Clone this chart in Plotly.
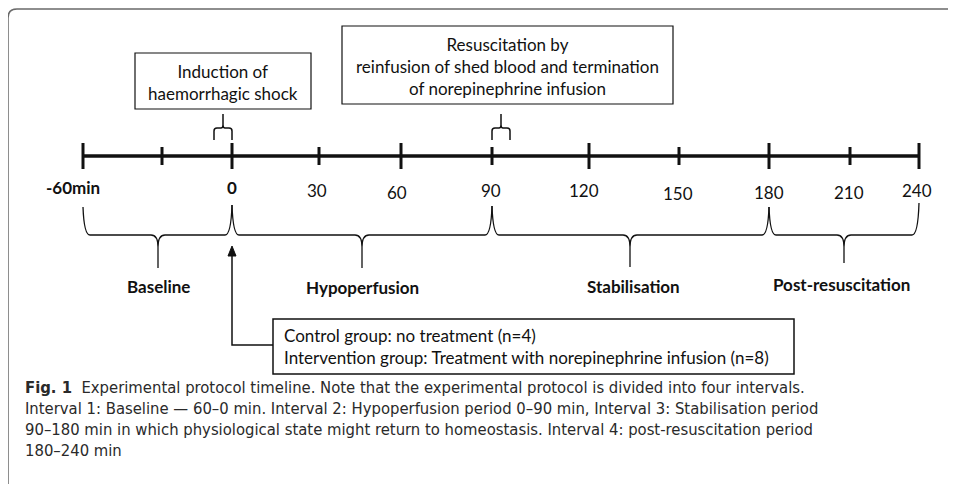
import plotly.graph_objects as go

# ---------------- data ----------------
tick_times = [-60, -30, 0, 30, 60, 90, 120, 150, 180, 210, 240]
tick_labels = ["-60min", "", "0", "30", "60", "90", "120", "150", "180", "210", "240"]
tick_bold = [True, False, True, False, False, False, False, False, False, False, False]
tick_major = [True, False, True, False, True, False, True, False, True, False, True]

interval_names = ["Baseline", "Hypoperfusion", "Stabilisation", "Post-resuscitation"]
interval_start = [-60, 0, 90, 180]
interval_end = [0, 90, 180, 240]

event_times = [0, 90]
event_texts = ["Induction of<br>haemorrhagic shock",
               "Resuscitation by<br>reinfusion of shed blood and termination<br>of norepinephrine infusion"]

group_lines = ["Control group: no treatment (n=4)",
               "Intervention group: Treatment with norepinephrine infusion (n=8)"]

caption_lines = [
    "<b>Fig. 1</b>  Experimental protocol timeline. Note that the experimental protocol is divided into four intervals.",
    "Interval 1: Baseline \u2014 60\u20130 min. Interval 2: Hypoperfusion period 0\u201390 min, Interval 3: Stabilisation period",
    "90\u2013180 min in which physiological state might return to homeostasis. Interval 4: post-resuscitation period",
    "180\u2013240 min",
]

# ---------------- layout (pixel positions of the hand-drawn diagram) ----------------
TICK_PX = [83, 162, 232, 319, 401, 492, 589, 679, 769, 850, 919]
LABEL_PX = [73, None, 232, 317, 397, 491, 584, 678, 769, 849, 917]
LABEL_PY = [187, None, 187, 190, 192, 190, 190, 193, 192, 192, 190]
px = dict(zip(tick_times, TICK_PX))

AXIS_Y = 156
FONT = "Lato, 'Open Sans', sans-serif"
CAP_FONT = "'Liberation Sans Narrow', 'DejaVu Sans Condensed', 'Arial Narrow', sans-serif"
INK = "#111111"
OFF = 8          # page body margin offset
W, H = 948, 476  # figure size chosen so the page does not overflow the window

fig = go.Figure()
shapes = []
annotations = []

# outer rounded frame (open to the right and bottom, as in the cropped original)
shapes.append(dict(type="path", xref="x", yref="y",
                   path="M 8,484 L 8,18 Q 8,9 17,9 L 956,9",
                   line=dict(color="#6a6a6a", width=1.5)))

# main timeline
shapes.append(dict(type="line", xref="x", yref="y", x0=px[-60], x1=px[240], y0=AXIS_Y, y1=AXIS_Y,
                   line=dict(color=INK, width=3.5)))
for t, major in zip(tick_times, tick_major):
    h = 13 if major else 9
    shapes.append(dict(type="line", xref="x", yref="y", x0=px[t], x1=px[t],
                       y0=AXIS_Y - h, y1=AXIS_Y + h, line=dict(color=INK, width=3)))

# tick labels
for t, lab, b, lx, ly in zip(tick_times, tick_labels, tick_bold, LABEL_PX, LABEL_PY):
    if not lab:
        continue
    annotations.append(dict(x=lx, y=ly, xref="x", yref="y", text=f"<b>{lab}</b>" if b else lab,
                            showarrow=False, font=dict(family=FONT, size=17, color=INK),
                            xanchor="center", yanchor="middle"))

# small braces above the timeline at event times
for t in event_times:
    x0 = px[t] - 18 if t == 0 else px[t]
    x1 = x0 + 18
    xm = (x0 + x1) / 2
    path = (f"M {x0},140 L {x0},131 Q {x0},128 {x0+3},128 L {xm-2},128 Q {xm},128 {xm},125 "
            f"L {xm},114 M {xm},125 Q {xm},128 {xm+2},128 L {x1-3},128 Q {x1},128 {x1},131 L {x1},140")
    shapes.append(dict(type="path", xref="x", yref="y", path=path, line=dict(color=INK, width=1.5)))

# event boxes
BOXES = [(135, 311, 53, 109), (342, 673, 26, 104)]
for (bx0, bx1, by0, by1), txt in zip(BOXES, event_texts):
    shapes.append(dict(type="rect", xref="x", yref="y", x0=bx0, x1=bx1, y0=by0, y1=by1,
                       line=dict(color=INK, width=1.2), fillcolor="white"))
    annotations.append(dict(x=(bx0 + bx1) / 2, y=(by0 + by1) / 2 + 1, xref="x", yref="y", text=txt,
                            showarrow=False, align="center",
                            font=dict(family=FONT, size=17, color=INK),
                            xanchor="center", yanchor="middle"))

# interval braces below the timeline
YH = 235
TOPS = {-60: 207, 0: 205, 90: 206, 180: 207, 240: 203}
MID_PX = [158, 362, 630, 844]
TIP_PX = [268, 268, 267, 263]
NAME_PX = [158, 362, 633, 841]
NAME_PY = [286, 287, 286, 284]
for s, e, xm, tip in zip(interval_start, interval_end, MID_PX, TIP_PX):
    x0, x1 = px[s], px[e]
    path = (f"M {x0},{TOPS[s]} Q {x0+1},{YH} {x0+7},{YH} L {xm-7},{YH} Q {xm},{YH} {xm},{YH+12} L {xm},{tip} "
            f"M {xm},{YH+12} Q {xm},{YH} {xm+7},{YH} L {x1-7},{YH} Q {x1-1},{YH} {x1},{TOPS[e]}")
    shapes.append(dict(type="path", xref="x", yref="y", path=path, line=dict(color=INK, width=1.3)))
for name, nx, ny in zip(interval_names, NAME_PX, NAME_PY):
    annotations.append(dict(x=nx, y=ny, xref="x", yref="y", text=f"<b>{name}</b>",
                            showarrow=False, font=dict(family=FONT, size=17, color=INK),
                            xanchor="center", yanchor="middle"))

# group box with arrow pointing at time 0
GB = (273, 794, 319, 374)
shapes.append(dict(type="rect", xref="x", yref="y", x0=GB[0], x1=GB[1], y0=GB[2], y1=GB[3],
                   line=dict(color=INK, width=1.5), fillcolor="white"))
shapes.append(dict(type="path", xref="x", yref="y",
                   path=f"M {GB[0]},345 L {px[0]},345 L {px[0]},254",
                   line=dict(color=INK, width=1.5)))
shapes.append(dict(type="path", xref="x", yref="y",
                   path=f"M {px[0]-4},256 L {px[0]},246 L {px[0]+4},256 Z",
                   line=dict(color=INK, width=1), fillcolor=INK))
annotations.append(dict(x=282, y=346, xref="x", yref="y", text="<br>".join(group_lines),
                        showarrow=False, align="left", font=dict(family=FONT, size=17, color=INK),
                        xanchor="left", yanchor="middle"))

# caption
for i, line in enumerate(caption_lines):
    annotations.append(dict(x=23, y=387 + i * 21.3, xref="x", yref="y", text=line,
                            showarrow=False, align="left",
                            font=dict(family=CAP_FONT, size=16.5, color="#2a2a2a"),
                            xanchor="left", yanchor="middle"))

fig.update_layout(
    width=W, height=H,
    margin=dict(l=0, r=0, t=0, b=0),
    paper_bgcolor="white", plot_bgcolor="white",
    xaxis=dict(range=[OFF, W + OFF], visible=False, fixedrange=True),
    yaxis=dict(range=[H + OFF, OFF], visible=False, fixedrange=True),
    shapes=shapes, annotations=annotations, showlegend=False,
)
fig.write_html("out.html")
